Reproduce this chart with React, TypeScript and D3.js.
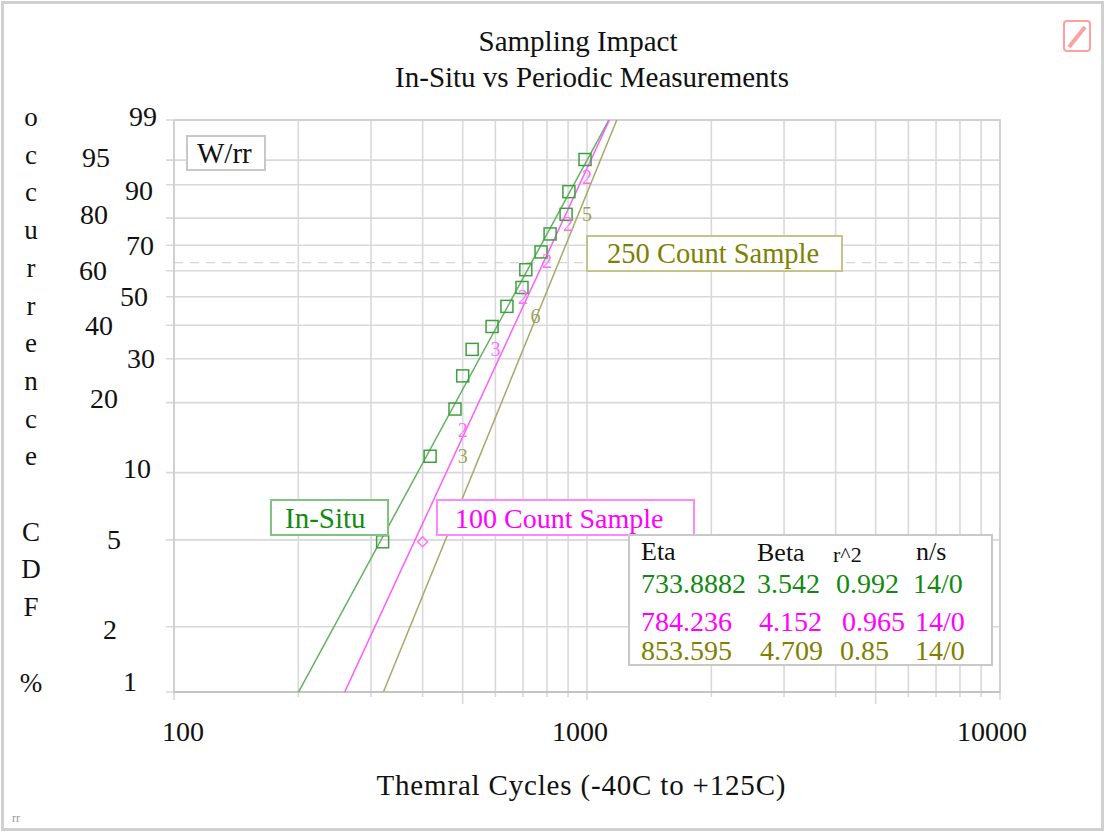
import React from 'react';
import * as d3 from 'd3';

// values
const percentTicks = [1, 2, 5, 10, 20, 30, 40, 50, 60, 70, 80, 90, 95, 99];
const cycleTicks = [100, 200, 300, 400, 500, 600, 700, 800, 900, 1000, 2000, 3000, 4000, 5000, 6000, 7000, 8000, 9000, 10000];
const cycleLabels = [100, 1000, 10000];

const inSituCycles = [320, 417, 479, 500, 527, 589, 640, 696, 711, 774, 814, 890, 904, 989];
const inSituPct = [4.9, 11.8, 18.8, 25.7, 32.6, 39.6, 46.5, 53.5, 60.4, 67.4, 74.3, 81.3, 88.2, 95.1];

const sample100Cycles = [400, 500, 600, 700, 800, 900, 1000];
const sample100Pct = [4.9, 15.3, 32.6, 50.0, 63.9, 77.8, 91.7];
const sample100Count = [1, 2, 3, 2, 2, 2, 2];

const sample250Cycles = [500, 750, 1000];
const sample250Pct = [11.8, 43.1, 81.3];
const sample250Count = [3, 6, 5];

const seriesNames = ['In-Situ', '100 Count Sample', '250 Count Sample'];
const etaValues = ['733.8882', '784.236', '853.595'];
const betaValues = ['3.542', '4.152', '4.709'];
const r2Values = ['0.992', '0.965', '0.85'];
const nsValues = ['14/0', '14/0', '14/0'];

const W = 1104;
const H = 832;
const plot = { left: 174, right: 1000, top: 120, bottom: 692 };
const serif = "'Liberation Serif', 'Times New Roman', serif";

const textColors = ['#128a12', '#ff00ff', '#808000'];
const lineColors = ['#62b262', '#ff5cff', '#a8a86a'];
const markColors = ['#3f9f3f', '#ff6cff', '#a0a05c'];

// per-label placement of the staggered percent labels
const pctLabelPos: Record<number, [number, number]> = {
  99: [157, -4], 95: [110, -3], 90: [153, 6], 80: [108, -4], 70: [154, 0],
  60: [107, 0], 50: [148, 0], 40: [113, 0], 30: [155, 0], 20: [118, -4],
  10: [151, -4], 5: [121, 0], 2: [117, 3], 1: [137, -11],
};

const weib = (p: number) => Math.log(-Math.log(1 - p / 100));

export default function App() {
  const x = d3.scaleLog().domain([100, 10000]).range([plot.left, plot.right]);
  const yLin = d3.scaleLinear().domain([weib(1), weib(99)]).range([plot.bottom, plot.top]);
  const y = (p: number) => yLin(weib(p));

  const fitLine = (eta: number, beta: number) => {
    const pts = [0.5, 99.9].map(p => [x(eta * Math.pow(-Math.log(1 - p / 100), 1 / beta)), y(p)] as [number, number]);
    return d3.line()(pts) || '';
  };

  const tickLen = (v: number) => (v === 500 || v === 5000 ? 12 : v === 100 || v === 1000 || v === 10000 ? 8 : 5);

  const letters = 'occurrence CDF %'.split('');

  return (
    <svg width={W} height={H} style={{ position: 'absolute', left: 0, top: 0, background: '#fff' }} fontFamily={serif}>
      <defs>
        <clipPath id="plotClip">
          <rect x={plot.left} y={plot.top} width={plot.right - plot.left} height={plot.bottom - plot.top} />
        </clipPath>
      </defs>
      <rect x={0} y={0} width={W} height={H} fill="#fff" />
      <rect x={2.5} y={2.5} width={W - 4} height={H - 5} fill="none" stroke="#d0d0d0" strokeWidth={3} />

      {/* title */}
      <text x={578} y={51} textAnchor="middle" fontSize={29} fill="#111">Sampling Impact</text>
      <text x={592} y={87} textAnchor="middle" fontSize={29} fill="#111">In-Situ vs Periodic Measurements</text>

      {/* grid */}
      {cycleTicks.map(v => (
        <line key={'v' + v} x1={x(v)} x2={x(v)} y1={plot.top} y2={plot.bottom + tickLen(v)} stroke="#d9d9d9" strokeWidth={1.6} />
      ))}
      {percentTicks.map(p => (
        <line key={'h' + p} x1={plot.left - 8} x2={plot.right} y1={y(p)} y2={y(p)} stroke="#d9d9d9" strokeWidth={1.6} />
      ))}
      <line x1={plot.left} x2={plot.right + 4} y1={y(63.2)} y2={y(63.2)} stroke="#d4d4d4" strokeWidth={1.4} strokeDasharray="9,7" />
      <rect x={plot.left} y={plot.top} width={plot.right - plot.left} height={plot.bottom - plot.top} fill="none" stroke="#cfcfcf" strokeWidth={1.8} />
      <line x1={plot.left} x2={plot.right} y1={plot.bottom} y2={plot.bottom} stroke="#c4c4c4" strokeWidth={2} />

      {/* fitted lines */}
      <g clipPath="url(#plotClip)" fill="none" strokeWidth={1.5}>
        <path d={fitLine(733.8882, 3.542)} stroke={lineColors[0]} />
        <path d={fitLine(784.236, 4.152)} stroke={lineColors[1]} />
        <path d={fitLine(853.595, 4.709)} stroke={lineColors[2]} />
      </g>

      {/* in-situ points */}
      {inSituCycles.map((c, i) => (
        <rect key={'s' + i} x={x(c) - 6} y={y(inSituPct[i]) - 6} width={12} height={12} fill="none" stroke={markColors[0]} strokeWidth={1.5} />
      ))}
      {/* grouped samples, labelled with their failure count */}
      {sample100Cycles.map((c, i) =>
        sample100Count[i] === 1 ? (
          <path key={'m' + i} d={`M${x(c)},${y(sample100Pct[i]) - 5}l5,5l-5,5l-5,-5z`} fill="none" stroke={markColors[1]} strokeWidth={1.3} />
        ) : (
          <text key={'m' + i} x={x(c)} y={y(sample100Pct[i]) + 7} textAnchor="middle" fontSize={20} fill={markColors[1]}>{sample100Count[i]}</text>
        )
      )}
      {sample250Cycles.map((c, i) => (
        <text key={'o' + i} x={x(c)} y={y(sample250Pct[i]) + 7} textAnchor="middle" fontSize={20} fill={markColors[2]}>{sample250Count[i]}</text>
      ))}

      {/* W/rr box */}
      <rect x={187} y={136} width={78} height={34} fill="#fff" stroke="#c8c8c8" strokeWidth={2} />
      <text x={197} y={163} fontSize={29} fill="#111">W/rr</text>

      {/* series labels */}
      <rect x={271} y={500} width={117} height={35} fill="#fff" stroke="#82c282" strokeWidth={2} />
      <text x={285} y={528} fontSize={29} fill={textColors[0]}>{seriesNames[0]}</text>
      <rect x={437} y={500} width={257} height={35} fill="#fff" stroke="#ff88ff" strokeWidth={2} />
      <text x={455} y={528} fontSize={28} fill={textColors[1]}>{seriesNames[1]}</text>
      <rect x={587} y={236} width={255} height={35} fill="#fff" stroke="#c4c488" strokeWidth={2} />
      <text x={607} y={263} fontSize={28.5} fill={textColors[2]}>{seriesNames[2]}</text>

      {/* stats table */}
      <rect x={629} y={535} width={363} height={130} fill="#fff" stroke="#c8c8c8" strokeWidth={2} />
      <text x={641} y={560} fontSize={26} fill="#111">Eta</text>
      <text x={757} y={561} fontSize={26} fill="#111">Beta</text>
      <text x={833} y={562} fontSize={22} fill="#111">r^2</text>
      <text x={916} y={560} fontSize={26} fill="#111">n/s</text>
      {[593, 631, 660].map((by, i) => (
        <g key={'row' + i} fontSize={28} fill={textColors[i]}>
          <text x={641} y={by}>{etaValues[i]}</text>
          <text x={[757, 759, 760][i]} y={by}>{betaValues[i]}</text>
          <text x={[836, 842, 840][i]} y={by}>{r2Values[i]}</text>
          <text x={[913, 915, 915][i]} y={by}>{nsValues[i]}</text>
        </g>
      ))}

      {/* y labels */}
      {percentTicks.map(p => (
        <text key={'yl' + p} x={pctLabelPos[p][0]} y={y(p) + pctLabelPos[p][1] + 9.5} textAnchor="end" fontSize={28} fill="#111">{p}</text>
      ))}
      {letters.map((ch, i) => (
        <text key={'lt' + i} x={31} y={126 + i * 37.7} textAnchor="middle" fontSize={27} fill="#111">{ch}</text>
      ))}

      {/* x labels */}
      {cycleLabels.map(v => (
        <text key={'xl' + v} x={x(v) + (v === 100 ? 9 : v === 10000 ? -8 : -7)} y={741} textAnchor="middle" fontSize={28} fill="#111">{v}</text>
      ))}
      <text x={581} y={795} textAnchor="middle" fontSize={29} fill="#111" textLength={409} lengthAdjust="spacing">Themral Cycles (-40C to +125C)</text>

      {/* corner marks */}
      <g stroke="#ffa0a0" strokeWidth={2} fill="none">
        <rect x={1064} y={21} width={26} height={30} rx={3} />
        <path d="M1069,47 L1085,27" strokeWidth={4} />
      </g>
      <text x={12} y={822} fontSize={12} fill="#9a9a9a">rr</text>
    </svg>
  );
}
